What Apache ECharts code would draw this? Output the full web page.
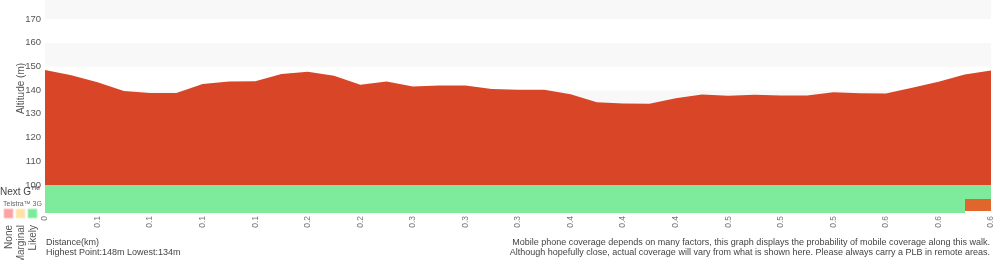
<!DOCTYPE html>
<html>
<head>
<meta charset="utf-8">
<script src="https://cdn.jsdelivr.net/npm/echarts@6/dist/echarts.min.js"></script>
<style>
html,body{margin:0;padding:0;background:#fff;}
#chart{width:1000px;height:260px;}
</style>
</head>
<body>
<div id="chart"></div>
<script>
// Tick labels along the distance axis (one every second sample)
var xTickLabels = ['0','0.1','0.1','0.1','0.1','0.2','0.2','0.3','0.3','0.3','0.4','0.4','0.4','0.5','0.5','0.5','0.6','0.6','0.6'];
// Altitude samples (m), two per tick interval
var altitude = [148.5,146.3,143.3,139.6,138.8,138.8,142.6,143.6,143.7,146.8,147.7,146.1,142.3,143.6,141.5,142.0,142.0,140.5,140.2,140.2,138.3,134.9,134.4,134.3,136.6,138.2,137.6,138.0,137.7,137.7,139.1,138.7,138.6,141.0,143.5,146.6,148.3];
// Coverage per segment: L = likely, M = marginal, N = none, X = no service
var nextG     = ['L','L','L','L','L','L','L','L','L','L','L','L','L','L','L','L','L','L','L','L','L','L','L','L','L','L','L','L','L','L','L','L','L','L','L','L'];
var telstra3G = ['L','L','L','L','L','L','L','L','L','L','L','L','L','L','L','L','L','L','L','L','L','L','L','L','L','L','L','L','L','L','L','L','L','L','L','X'];
var yTicks = {min: 100, max: 178, step: 10};

var FONT = '"Liberation Sans", Arial, Helvetica, sans-serif';
var covColors = {L: '#7deb9b', M: '#ffe2a6', N: '#ffa1a1', X: '#e0662e'};

var categories = [];
for (var i = 0; i < altitude.length; i++) {
  categories.push(i % 2 === 0 ? xTickLabels[i / 2] : '');
}
// merge consecutive equal segments into runs: [start, end, row, status]
function runs(arr, row) {
  var out = [], s = 0;
  for (var k = 1; k <= arr.length; k++) {
    if (k === arr.length || arr[k] !== arr[s]) { out.push([s, k, row, arr[s]]); s = k; }
  }
  return out;
}
var covData = runs(nextG, 1).concat(runs(telstra3G, 0));

var chart = echarts.init(document.getElementById('chart'), null, {renderer: 'canvas'});
chart.setOption({
  animation: false,
  backgroundColor: '#ffffff',
  textStyle: {fontFamily: FONT},
  grid: [
    {left: 45, right: 9, top: 0, height: 185, outerBoundsMode: 'none', containLabel: false},
    {left: 45, right: 9, top: 185, height: 27, outerBoundsMode: 'none', containLabel: false}
  ],
  xAxis: [
    {type: 'category', gridIndex: 0, data: categories, boundaryGap: false,
     axisLine: {show: false}, axisTick: {show: false}, axisLabel: {show: false}, splitLine: {show: false}},
    {type: 'category', gridIndex: 1, data: categories, boundaryGap: false,
     axisLine: {show: false}, axisTick: {show: false}, splitLine: {show: false},
     axisLabel: {interval: 0, rotate: 90, margin: 4, color: '#777', fontSize: 8.5, fontFamily: FONT}}
  ],
  yAxis: [
    {type: 'value', gridIndex: 0, min: yTicks.min, max: yTicks.max, interval: yTicks.step,
     name: 'Altitude (m)', nameLocation: 'middle', nameGap: 19, nameRotate: 90, nameMoveOverlap: false,
     nameTextStyle: {color: '#555', fontSize: 10, fontFamily: FONT, padding: [0, 0, 0, 8]},
     axisLine: {show: false}, axisTick: {show: false}, splitLine: {show: false},
     splitArea: {show: true, areaStyle: {color: ['#ffffff', '#f8f8f8']}},
     axisLabel: {showMaxLabel: false, color: '#555', fontSize: 9.5, margin: 4, fontFamily: FONT}},
    {type: 'value', gridIndex: 1, min: 0, max: 2, show: false}
  ],
  series: [
    {type: 'line', xAxisIndex: 0, yAxisIndex: 0, data: altitude, symbol: 'none',
     lineStyle: {width: 0}, areaStyle: {color: '#d94627', opacity: 1, origin: 'start'}},
    {type: 'custom', xAxisIndex: 1, yAxisIndex: 1, data: covData,
     renderItem: function (params, api) {
       var d = covData[params.dataIndex];
       var p0 = api.coord([d[0], d[2] + 1]);
       var p1 = api.coord([d[1], d[2]]);
       var h = p1[1] - p0[1];
       if (d[3] === 'X') { h = h - 2; }
       return {type: 'rect', shape: {x: Math.round(p0[0]), y: Math.round(p0[1]), width: Math.round(p1[0]) - Math.round(p0[0]), height: Math.round(h)},
               style: {fill: covColors[d[3]]}};
     }}
  ],
  graphic: [
    {type: 'text', left: 0, top: 187, style: {text: 'Next G', fill: '#444', font: '10px ' + FONT}},
    {type: 'text', left: 31, top: 185, style: {text: 'TM', fill: '#444', font: '6px ' + FONT}},
    {type: 'text', left: 3, top: 201, style: {text: 'Telstra™ 3G', fill: '#666', font: '7px ' + FONT}},
    {type: 'rect', shape: {x: 4, y: 209, width: 9, height: 9}, style: {fill: covColors.N, stroke: '#ffc9c9', lineWidth: 1}},
    {type: 'rect', shape: {x: 16, y: 209, width: 9, height: 9}, style: {fill: covColors.M, stroke: '#fff0cf', lineWidth: 1}},
    {type: 'rect', shape: {x: 28, y: 209, width: 9, height: 9}, style: {fill: covColors.L, stroke: '#b9f5c6', lineWidth: 1}},
    {type: 'text', x: 9, y: 225, rotation: Math.PI / 2, style: {text: 'None', fill: '#555', font: '10px ' + FONT, align: 'right', verticalAlign: 'middle'}},
    {type: 'text', x: 21, y: 225, rotation: Math.PI / 2, style: {text: 'Marginal', fill: '#555', font: '10px ' + FONT, align: 'right', verticalAlign: 'middle'}},
    {type: 'text', x: 33, y: 225, rotation: Math.PI / 2, style: {text: 'Likely', fill: '#555', font: '10px ' + FONT, align: 'right', verticalAlign: 'middle'}},
    {type: 'text', left: 46, top: 238, style: {text: 'Distance(km)', fill: '#444', font: '9px ' + FONT}},
    {type: 'text', left: 46, top: 248, style: {text: 'Highest Point:148m Lowest:134m', fill: '#444', font: '9px ' + FONT}},
    {type: 'text', right: 10, top: 238, style: {text: 'Mobile phone coverage depends on many factors, this graph displays the probability of mobile coverage along this walk.', fill: '#444', font: '9px ' + FONT}},
    {type: 'text', right: 10, top: 248, style: {text: 'Although hopefully close, actual coverage will vary from what is shown here. Please always carry a PLB in remote areas.', fill: '#444', font: '9px ' + FONT}}
  ]
});
</script>
</body>
</html>
